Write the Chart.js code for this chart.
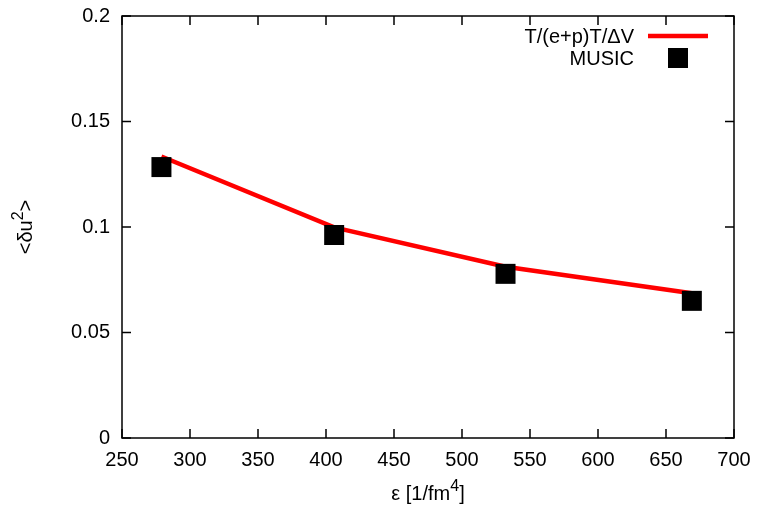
<!DOCTYPE html>
<html>
<head>
<meta charset="utf-8">
<script src="https://cdn.jsdelivr.net/npm/chart.js@4/dist/chart.umd.min.js"></script>
<style>
  html, body { margin: 0; padding: 0; background: #fff; }
  canvas { display: block; }
</style>
</head>
<body>
<canvas id="c" width="758" height="507"></canvas>
<script>
// energy density values (x) and fluctuations
const energyDensity = [279, 406, 532, 669];
const formulaValues = [0.1334, 0.0998, 0.0812, 0.0686];
const musicValues = [0.1284, 0.0962, 0.0778, 0.0650];
const xTicks = [250, 300, 350, 400, 450, 500, 550, 600, 650, 700];
const yTicks = [0, 0.05, 0.1, 0.15, 0.2];

const FONT = '"Liberation Sans", Arial, Helvetica, sans-serif';
const FONT_SIZE = 20;

// draw text with a raised, smaller superscript part
function drawSup(ctx, base, sup, tail, x, y) {
  ctx.font = `${FONT_SIZE}px ${FONT}`;
  const wBase = ctx.measureText(base).width;
  const wTail = ctx.measureText(tail).width;
  ctx.font = `${FONT_SIZE * 0.8}px ${FONT}`;
  const wSup = ctx.measureText(sup).width;
  const total = wBase + wSup + wTail;
  let cx = x - total / 2;
  ctx.textAlign = 'left';
  ctx.textBaseline = 'alphabetic';
  ctx.font = `${FONT_SIZE}px ${FONT}`;
  ctx.fillText(base, cx, y);
  cx += wBase;
  ctx.font = `${FONT_SIZE * 0.8}px ${FONT}`;
  ctx.fillText(sup, cx, y - 9);
  cx += wSup;
  ctx.font = `${FONT_SIZE}px ${FONT}`;
  ctx.fillText(tail, cx, y);
}

const framePlugin = {
  id: 'frame',
  afterDraw(chart) {
    const { ctx, chartArea: a, scales } = chart;
    const tick = 9;
    ctx.save();
    ctx.strokeStyle = '#000';
    ctx.lineWidth = 1.5;
    ctx.strokeRect(a.left, a.top, a.right - a.left, a.bottom - a.top);
    ctx.beginPath();
    xTicks.forEach((v) => {
      const px = scales.x.getPixelForValue(v);
      ctx.moveTo(px, a.bottom); ctx.lineTo(px, a.bottom - tick);
      ctx.moveTo(px, a.top); ctx.lineTo(px, a.top + tick);
    });
    yTicks.forEach((v) => {
      const py = scales.y.getPixelForValue(v);
      ctx.moveTo(a.left, py); ctx.lineTo(a.left + tick, py);
      ctx.moveTo(a.right, py); ctx.lineTo(a.right - tick, py);
    });
    ctx.stroke();

    ctx.fillStyle = '#000';
    // x title
    drawSup(ctx, 'ε [1/fm', '4', ']', (a.left + a.right) / 2, 500);
    // y title, rotated
    ctx.save();
    ctx.translate(32, (a.top + a.bottom) / 2);
    ctx.rotate(-Math.PI / 2);
    drawSup(ctx, '<δu', '2', '>', 0, 0);
    ctx.restore();

    // legend
    ctx.font = `${FONT_SIZE}px ${FONT}`;
    ctx.textAlign = 'right';
    ctx.textBaseline = 'alphabetic';
    ctx.fillText('T/(e+p)T/ΔV', 634, 43);
    ctx.fillText('MUSIC', 634, 65);
    ctx.strokeStyle = '#ff0000';
    ctx.lineWidth = 4.5;
    ctx.beginPath();
    ctx.moveTo(648, 36); ctx.lineTo(708, 36);
    ctx.stroke();
    ctx.fillRect(668, 48, 20, 20);
    ctx.restore();
  }
};

new Chart(document.getElementById('c'), {
  type: 'line',
  data: {
    datasets: [
      {
        label: 'T/(e+p)T/ΔV',
        data: energyDensity.map((x, i) => ({ x, y: formulaValues[i] })),
        borderColor: '#ff0000',
        borderWidth: 4.5,
        pointRadius: 0,
        tension: 0,
        order: 2,
      },
      {
        label: 'MUSIC',
        data: energyDensity.map((x, i) => ({ x, y: musicValues[i] })),
        showLine: false,
        pointStyle: 'rect',
        pointRadius: 14.14,
        pointBackgroundColor: '#000',
        pointBorderWidth: 0,
        order: 1,
      },
    ],
  },
  options: {
    responsive: false,
    animation: false,
    layout: { padding: { left: 0, top: 16, right: 24, bottom: 0 } },
    plugins: { legend: { display: false }, tooltip: { enabled: false } },
    scales: {
      x: {
        type: 'linear',
        min: 250,
        max: 700,
        afterBuildTicks: (axis) => { axis.ticks = xTicks.map((v) => ({ value: v })); },
        afterFit: (axis) => {
          axis.height = 69;
          axis.paddingLeft = 0;
          axis.paddingRight = 0;
        },
        grid: { display: false, drawTicks: false },
        border: { display: false },
        ticks: { color: '#000', padding: 10, font: { family: FONT, size: FONT_SIZE }, maxRotation: 0 },
      },
      y: {
        type: 'linear',
        min: 0,
        max: 0.2,
        afterBuildTicks: (axis) => { axis.ticks = yTicks.map((v) => ({ value: v })); },
        afterFit: (axis) => {
          axis.width = 122;
          axis.paddingTop = 0;
          axis.paddingBottom = 0;
        },
        grid: { display: false, drawTicks: false },
        border: { display: false },
        ticks: {
          color: '#000',
          padding: 12,
          font: { family: FONT, size: FONT_SIZE },
          callback: (v) => String(Number(v.toFixed(2))),
        },
      },
    },
  },
  plugins: [framePlugin],
});
</script>
</body>
</html>
